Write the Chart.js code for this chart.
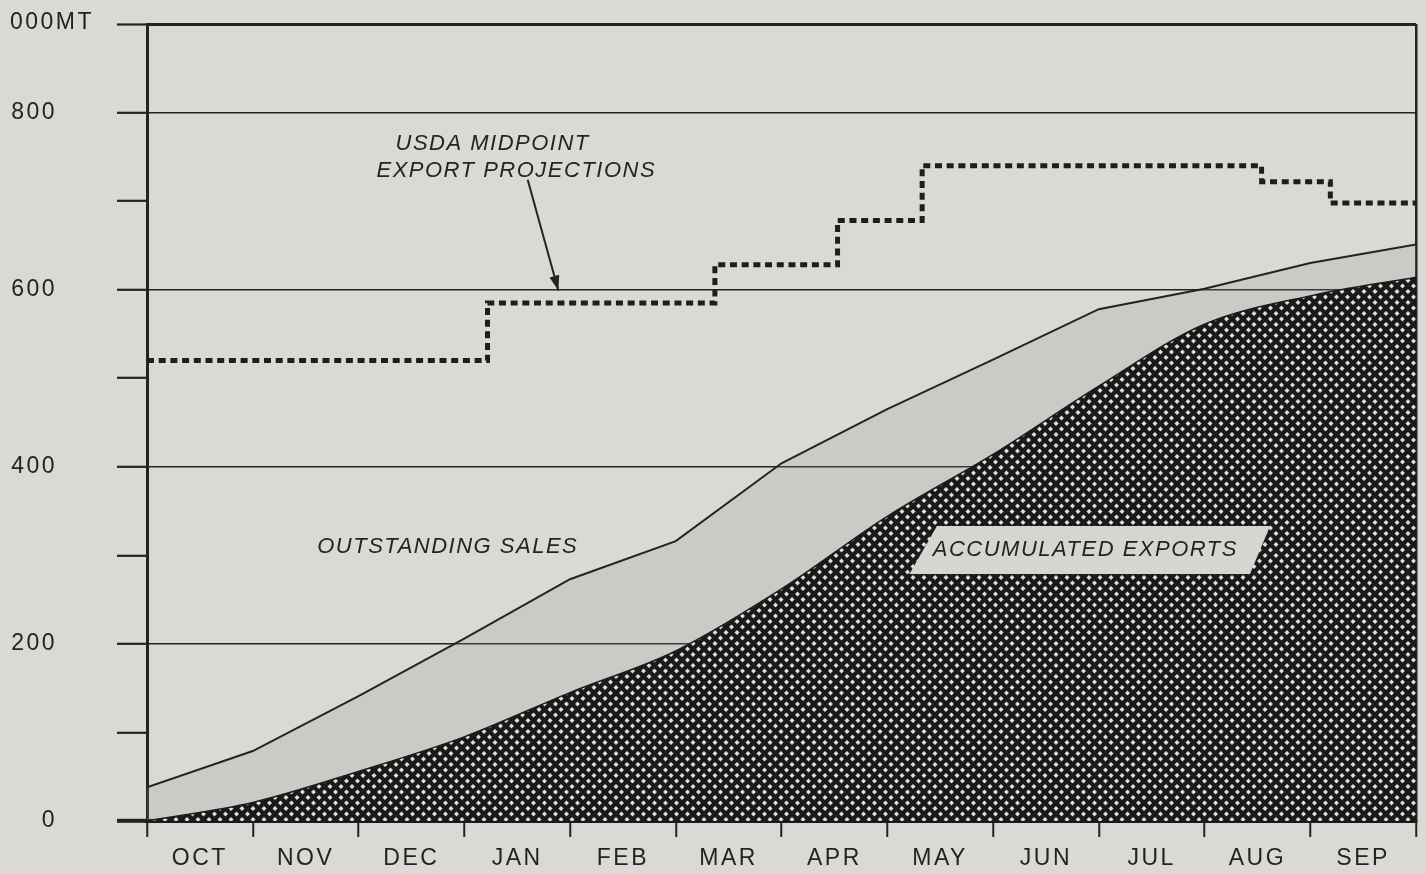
<!DOCTYPE html>
<html>
<head>
<meta charset="utf-8">
<title>Accumulated exports and outstanding sales</title>
<script src="https://cdn.jsdelivr.net/npm/chart.js@4.4.1/dist/chart.umd.min.js"></script>
<style>
    html, body { margin: 0; padding: 0; background: #dad9d5; }
    canvas { display: block; }
</style>
</head>
<body>
<canvas id="exportChart" width="1426" height="874"></canvas>
<script>
const months = ['OCT', 'NOV', 'DEC', 'JAN', 'FEB', 'MAR', 'APR', 'MAY', 'JUN', 'JUL', 'AUG', 'SEP'];

// month-end readings, 000 MT (index 0 = Oct 1)
const accumulatedExports = [0, 21, 56, 95, 145, 192, 262, 344, 414, 491, 561, 593, 614];
const totalCommitments = [38, 79, 141, 206, 273, 316, 404, 465, 521, 578, 601, 630, 651];

// USDA midpoint projection, changes at these points (months since Oct 1)
const projectionDates = [0, 3.22, 5.37, 6.53, 7.33, 10.54, 11.19, 12];
const projectionValues = [520, 585, 628, 678, 740, 722, 698, 698];

const yTicks = [0, 100, 200, 300, 400, 500, 600, 700, 800, 900];
const yLabelled = [0, 200, 400, 600, 800];
const yGridLines = [200, 400, 600, 800];
const yUnit = '000MT';

const INK = '#232323';
const FONT = '"Liberation Sans", Arial, sans-serif';


document.addEventListener("DOMContentLoaded", () => {
    initExportChart();
});


function makeHatch(ctx) {
    const s = 11;
    const tile = document.createElement('canvas');
    tile.width = s;
    tile.height = s;
    const g = tile.getContext('2d');
    g.fillStyle = '#e0dfdb';
    g.fillRect(0, 0, s, s);
    g.strokeStyle = '#1a1a1a';
    g.lineWidth = 4.3;
    for (const k of [-s, 0, s]) {
        g.beginPath(); g.moveTo(k, 0); g.lineTo(k + s, s); g.stroke();
        g.beginPath(); g.moveTo(k + s, 0); g.lineTo(k, s); g.stroke();
    }
    return ctx.createPattern(tile, 'repeat');
}


const letterSpacing = {
    id: 'letterSpacing',
    beforeDraw(chart) {
        chart.ctx.letterSpacing = '2.5px';
    }
};


const annotations = {
    id: 'annotations',
    afterDatasetsDraw(chart) {
        const { ctx, scales: { x, y } } = chart;
        const px = (m, v) => [x.getPixelForValue(m), y.getPixelForValue(v)];
        const text = (str, m, v) => {
            const [tx, ty] = px(m, v);
            ctx.fillText(str, tx, ty + 3);
        };

        ctx.save();

        // light label box over the hatching
        const box = [px(7.47, 333), px(10.62, 333), px(10.43, 279), px(7.21, 279)];
        ctx.fillStyle = '#d6d5d1';
        ctx.beginPath();
        ctx.moveTo(...box[0]);
        box.slice(1).forEach(p => ctx.lineTo(...p));
        ctx.closePath();
        ctx.fill();

        ctx.font = 'italic 22px ' + FONT;
        ctx.letterSpacing = '1.5px';
        ctx.fillStyle = INK;
        ctx.textBaseline = 'middle';
        ctx.textAlign = 'left';
        text('USDA MIDPOINT', 2.35, 768);
        text('EXPORT PROJECTIONS', 2.17, 738);
        text('OUTSTANDING SALES', 1.61, 313);
        text('ACCUMULATED EXPORTS', 7.43, 310);

        // arrow to the projection line
        const [x1, y1] = px(3.60, 724);
        const [x2, y2] = px(3.89, 599);
        ctx.strokeStyle = INK;
        ctx.lineWidth = 2;
        ctx.beginPath(); ctx.moveTo(x1, y1); ctx.lineTo(x2, y2); ctx.stroke();
        const a = Math.atan2(y2 - y1, x2 - x1);
        ctx.beginPath();
        ctx.moveTo(x2, y2);
        ctx.lineTo(x2 - 15 * Math.cos(a) + 5 * Math.sin(a), y2 - 15 * Math.sin(a) - 5 * Math.cos(a));
        ctx.lineTo(x2 - 15 * Math.cos(a) - 5 * Math.sin(a), y2 - 15 * Math.sin(a) + 5 * Math.cos(a));
        ctx.closePath();
        ctx.fillStyle = INK;
        ctx.fill();

        // unit label at the top of the value axis
        ctx.font = '23px ' + FONT;
        ctx.letterSpacing = '2.5px';
        ctx.fillText(yUnit, 10, y.getPixelForValue(900) - 1);

        ctx.restore();
    }
};


function initExportChart() {
    const canvasElement = document.getElementById('exportChart');
    const ctx = canvasElement.getContext('2d');

    Chart.defaults.font.family = FONT;
    Chart.defaults.font.size = 23;
    Chart.defaults.color = INK;

    const toPoints = (xs, ys) => ys.map((v, i) => ({ x: xs[i], y: v }));
    const monthIdx = accumulatedExports.map((_, i) => i);

    new Chart(ctx, {
        type: 'line',
        data: {
            datasets: [
                {
                    label: 'Accumulated exports',
                    data: toPoints(monthIdx, accumulatedExports),
                    borderColor: '#1b1b1b',
                    borderWidth: 1.5,
                    backgroundColor: makeHatch(ctx),
                    fill: 'origin',
                    cubicInterpolationMode: 'monotone',
                    pointRadius: 0
                },
                {
                    label: 'Outstanding sales',
                    data: toPoints(monthIdx, totalCommitments),
                    borderColor: INK,
                    borderWidth: 2,
                    backgroundColor: 'rgba(150, 150, 145, 0.22)',
                    fill: '-1',
                    tension: 0,
                    pointRadius: 0
                },
                {
                    label: 'USDA midpoint export projections',
                    data: toPoints(projectionDates, projectionValues),
                    borderColor: '#1e1e1e',
                    borderWidth: 5,
                    borderDash: [7, 4.7],
                    borderCapStyle: 'butt',
                    stepped: 'before',
                    fill: false,
                    pointRadius: 0
                }
            ]
        },
        options: {
            responsive: false,
            devicePixelRatio: 1,
            animation: false,
            layout: { padding: { top: 24, right: 10, bottom: 0, left: 0 } },
            plugins: {
                legend: { display: false },
                tooltip: { enabled: false }
            },
            scales: {
                x: {
                    type: 'linear',
                    min: 0,
                    max: 12,
                    afterBuildTicks: (axis) => {
                        axis.ticks = [];
                        for (let v = 0; v <= 12; v += 0.5) axis.ticks.push({ value: v });
                    },
                    afterFit: (axis) => {
                        axis.height = 53;
                        axis.paddingLeft = 0;
                        axis.paddingRight = 0;
                    },
                    ticks: {
                        autoSkip: false,
                        maxRotation: 0,
                        padding: 8,
                        callback: (value) => (value % 1 ? months[Math.floor(value)] : '')
                    },
                    grid: {
                        drawOnChartArea: true,
                        color: (c) => (c.tick && c.tick.value === 12 ? INK : 'transparent'),
                        lineWidth: 2.5,
                        tickLength: 16,
                        tickWidth: 2,
                        tickColor: (c) => (c.tick && c.tick.value % 1 === 0 ? INK : 'transparent')
                    },
                    border: { display: true, color: '#1b1b1b', width: 4 }
                },
                y: {
                    min: 0,
                    max: 900,
                    afterBuildTicks: (axis) => {
                        axis.ticks = yTicks.map(v => ({ value: v }));
                    },
                    afterFit: (axis) => {
                        // the label padding would otherwise be added above and below the plot
                        axis.width = 147;
                        axis.paddingTop = 0;
                        axis.paddingBottom = 0;
                    },
                    ticks: {
                        padding: 60,
                        callback: (value) => (yLabelled.includes(value) ? String(value) : '')
                    },
                    grid: {
                        color: (c) => {
                            const v = c.tick && c.tick.value;
                            return (yGridLines.includes(v) || v === 900) ? INK : 'transparent';
                        },
                        lineWidth: (c) => (c.tick && c.tick.value === 900 ? 3 : 1.6),
                        tickLength: 30,
                        tickWidth: (c) => (c.tick && c.tick.value === 0 ? 4 : 2.2),
                        tickColor: INK
                    },
                    border: { display: true, color: INK, width: 3 }
                }
            }
        },
        plugins: [letterSpacing, annotations]
    });
}
</script>
</body>
</html>
